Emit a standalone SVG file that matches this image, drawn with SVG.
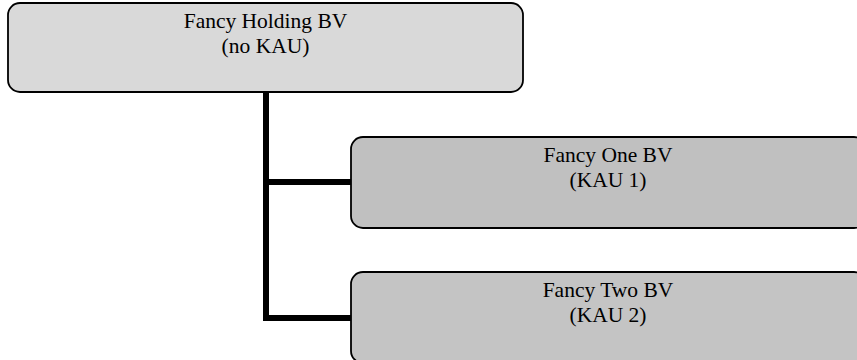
<svg xmlns="http://www.w3.org/2000/svg" width="857" height="360" viewBox="0 0 857 360">
<style>
.box{stroke:#000;stroke-width:1.8}
.t{font-family:"Liberation Serif","Times New Roman",serif;font-size:21.5px;fill:#000;text-anchor:middle}
.c{stroke:#000;stroke-width:6;fill:none}
</style>
<rect width="857" height="360" fill="#fff"/>
<g id="connectors">
<path class="c" d="M266 92 V318 H352"/>
<path class="c" d="M266 182 H352"/>
</g>
<g id="holding">
<rect class="box" x="8" y="3" width="515" height="89" rx="12" fill="#d9d9d9"/>
<text class="t" x="265.5" y="28">Fancy Holding BV</text>
<text class="t" x="265.5" y="53">(no KAU)</text>
</g>
<g id="one">
<rect class="box" x="351" y="137" width="515" height="91" rx="12" fill="#c0c0c0"/>
<text class="t" x="608" y="162">Fancy One BV</text>
<text class="t" x="608" y="187">(KAU 1)</text>
</g>
<g id="two">
<rect class="box" x="351" y="272" width="515" height="91" rx="12" fill="#c4c4c4"/>
<text class="t" x="608" y="297">Fancy Two BV</text>
<text class="t" x="608" y="322">(KAU 2)</text>
</g>
</svg>
